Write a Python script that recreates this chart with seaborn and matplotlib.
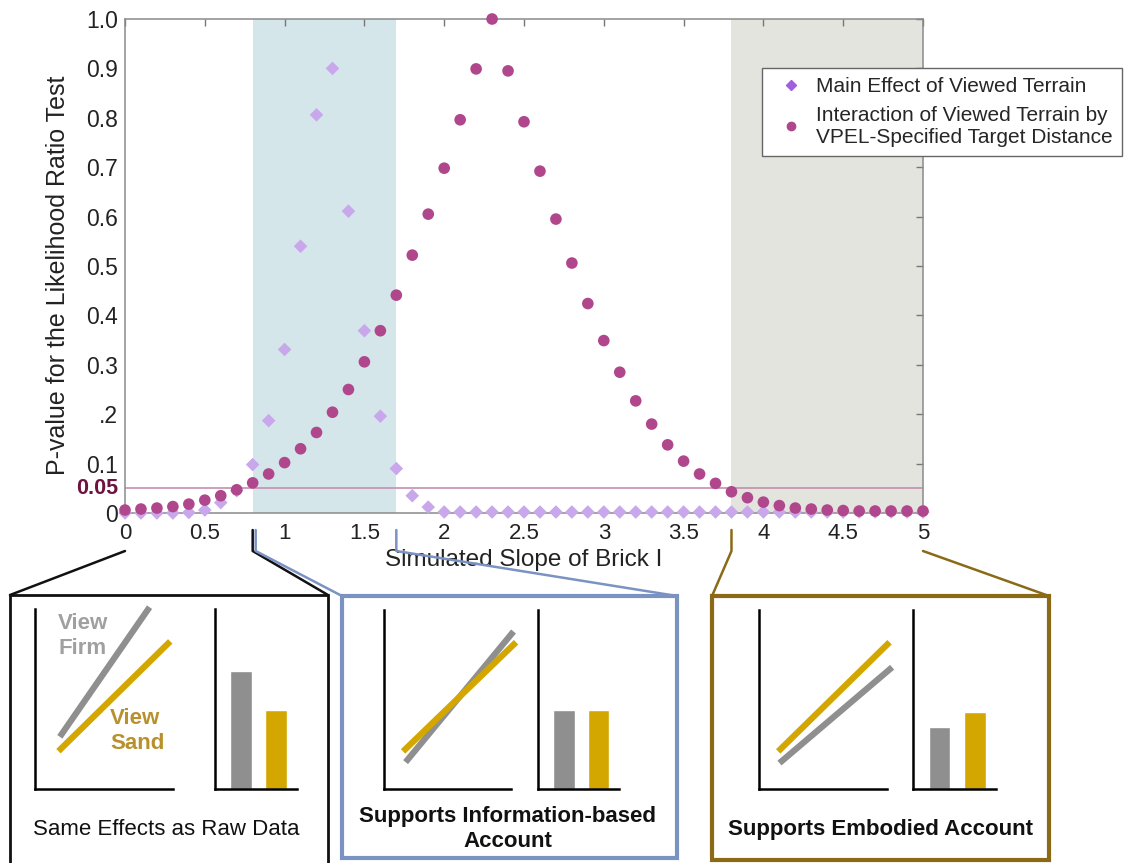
import numpy as np
import pandas as pd
import seaborn as sns
import matplotlib.pyplot as plt
from matplotlib.lines import Line2D
from matplotlib.patches import Rectangle

sns.set_style("white")
plt.rcParams['font.family'] = ['Liberation Sans', 'DejaVu Sans']

# simulated slope of brick I
slopes = [0.0, 0.1, 0.2, 0.3, 0.4, 0.5, 0.6, 0.7, 0.8, 0.9,
          1.0, 1.1, 1.2, 1.3, 1.4, 1.5, 1.6, 1.7, 1.8, 1.9,
          2.0, 2.1, 2.2, 2.3, 2.4, 2.5, 2.6, 2.7, 2.8, 2.9,
          3.0, 3.1, 3.2, 3.3, 3.4, 3.5, 3.6, 3.7, 3.8, 3.9,
          4.0, 4.1, 4.2, 4.3, 4.4, 4.5, 4.6, 4.7, 4.8, 4.9, 5.0]
# p-values, main effect of viewed terrain
main_p = [0.0, 0.0, 0.0, 0.0, 0.001, 0.006, 0.021, 0.045, 0.098, 0.187,
          0.331, 0.540, 0.806, 0.900, 0.611, 0.369, 0.196, 0.090, 0.035, 0.012,
          0.002, 0.002, 0.002, 0.002, 0.002, 0.002, 0.002, 0.002, 0.002, 0.002,
          0.002, 0.002, 0.002, 0.002, 0.002, 0.002, 0.002, 0.002, 0.002, 0.002,
          0.002, 0.002, 0.002, 0.002, 0.002, 0.002, 0.002, 0.002, 0.002, 0.002, 0.002]
# p-values, interaction with VPEL target distance
inter_p = [0.006, 0.008, 0.010, 0.013, 0.018, 0.026, 0.035, 0.047, 0.061, 0.079,
           0.102, 0.130, 0.163, 0.204, 0.250, 0.306, 0.369, 0.441, 0.522, 0.605,
           0.698, 0.796, 0.899, 1.000, 0.895, 0.792, 0.692, 0.595, 0.506, 0.424,
           0.349, 0.285, 0.227, 0.180, 0.138, 0.105, 0.079, 0.060, 0.043, 0.031,
           0.022, 0.015, 0.010, 0.008, 0.006, 0.005, 0.004, 0.004, 0.004, 0.004, 0.004]

info_band = [0.8, 1.7]
embodied_band = [3.8, 5.0]
alpha_level = 0.05

x_ticks = [0, 0.5, 1, 1.5, 2, 2.5, 3, 3.5, 4, 4.5, 5]
x_ticklabels = ['0', '0.5', '1', '1.5', '2', '2.5', '3', '3.5', '4', '4.5', '5']
y_ticks = [0, 0.1, 0.2, 0.3, 0.4, 0.5, 0.6, 0.7, 0.8, 0.9, 1.0]
y_ticklabels = ['0', '0.1', '.2', '0.3', '0.4', '0.5', '0.6', '0.7', '0.8', '0.9', '1.0']
legend_labels = ['Main Effect of Viewed Terrain',
                 'Interaction of Viewed Terrain by\nVPEL-Specified Target Distance']

# schematic panels: line end points (x0, x1), (y0, y1) and bar heights
firm_lines_x = [[0.18, 0.83], [0.17, 1.02], [0.16, 1.04]]
firm_lines_y = [[0.29, 1.01], [0.15, 0.88], [0.145, 0.68]]
sand_lines_x = [[0.17, 0.98], [0.15, 1.04], [0.15, 1.02]]
sand_lines_y = [[0.21, 0.82], [0.21, 0.82], [0.21, 0.82]]
bar_groups = ['Firm', 'Sand']
bar_heights = [[0.656, 0.439], [0.44, 0.44], [0.346, 0.43]]
panel_texts = ['Same Effects as Raw Data', 'Supports Information-based\nAccount',
               'Supports Embodied Account']

df = pd.DataFrame({'slope': slopes, 'main': main_p, 'inter': inter_p})

W, H = 1139, 863
def rect(l, t, r, b):
    return [l / W, 1 - b / H, (r - l) / W, (b - t) / H]

GRAY = '#8f8f8f'
GOLD = '#d4a700'

fig = plt.figure(figsize=(W / 100, H / 100), dpi=100)
ax = fig.add_axes(rect(125, 19, 923, 513))
ax.axvspan(*info_band, color='#d5e6eb', lw=0, zorder=0)
ax.axvspan(*embodied_band, color='#e4e4de', lw=0, zorder=0)
ax.axhline(alpha_level, color='#c58fb0', lw=1.2, zorder=1)

sns.scatterplot(data=df, x='slope', y='main', marker='D', s=48, color='#c8a8ea',
                edgecolor='none', clip_on=False, zorder=3, legend=False, ax=ax)
sns.scatterplot(data=df, x='slope', y='inter', marker='o', s=70, color='#b0478d',
                edgecolor='none', clip_on=False, zorder=4, legend=False, ax=ax)

ax.set_xlim(0, 5)
ax.set_ylim(0, 1)
ax.set_xticks(x_ticks)
ax.set_xticklabels(x_ticklabels)
ax.set_yticks(y_ticks)
ax.set_yticklabels(y_ticklabels)
ax.tick_params(direction='in', top=True, right=True, length=5, width=1, color='#777777',
               labelsize=16.5, labelcolor='#222222', pad=5)
ax.tick_params(axis='x', pad=7, labelsize=16)
for sp in ax.spines.values():
    sp.set_color('#8a8a8a')
    sp.set_linewidth(1.1)
ax.set_xlabel('Simulated Slope of Brick I', fontsize=17.5, color='#222222')
ax.xaxis.set_label_coords(0.5, -0.072)
ax.set_ylabel('P-value for the Likelihood Ratio Test', fontsize=18, color='#222222')
ax.yaxis.set_label_coords(-0.069, 0.482)
ax.text(-0.009, alpha_level, '0.05', transform=ax.get_yaxis_transform(), ha='right',
        va='center', fontsize=15.5, fontweight='bold', color='#6e1240')

handles = [Line2D([], [], marker='D', ls='none', color='#a25ee0', markersize=5),
           Line2D([], [], marker='o', ls='none', color='#b0478d', markersize=6)]
fig.legend(handles, legend_labels, loc='upper left', bbox_to_anchor=(762 / W, 1 - 68 / H),
           fancybox=False, edgecolor='#666666', framealpha=1, fontsize=15,
           handlelength=1.9, handletextpad=0.25, borderpad=0.45, labelspacing=0.45,
           borderaxespad=0)

# panel boxes (left, top, right, bottom) and colours
boxes = [(10, 595, 328, 870), (342, 596, 677, 858), (712, 596, 1049, 860)]
box_colors = ['#111111', '#7b93c2', '#8a6a16']
box_lw = [2, 3, 3]
for (l, t, r, b), c, lw in zip(boxes, box_colors, box_lw):
    fig.add_artist(Rectangle((l / W, 1 - b / H), (r - l) / W, (b - t) / H,
                             transform=fig.transFigure, fill=False, ec=c, lw=lw))

# connectors from the slope axis to each panel
def to_px(xval):
    return ax.transData.transform((xval, 0))[0]

spans = [(0.0, 0.8), tuple(info_band), tuple(embodied_band)]
for (a, b), (l, t, r, bb), c in zip(spans, boxes, box_colors):
    for xv, corner, vert in [(a, l, a not in (0.0, 5.0)), (b, r, b not in (0.0, 5.0))]:
        xp = to_px(xv) + (3 if c == '#7b93c2' and xv == 0.8 else 0)
        xs = [xp, xp, corner] if vert else [xp, corner]
        ys = [530, 551, t] if vert else [551, t]
        fig.add_artist(Line2D([x / W for x in xs], [1 - y / H for y in ys],
                              transform=fig.transFigure, color=c, lw=1.8))

line_axes = [(35, 609, 173, 789), (384, 610, 511, 789), (759, 610, 887, 789)]
bar_axes = [(215, 609, 297, 789), (538, 610, 619, 789), (913, 610, 996, 789)]
for i in range(3):
    la = fig.add_axes(rect(*line_axes[i]))
    if i == 2:
        order = [('sand', GOLD), ('firm', GRAY)]
    else:
        order = [('firm', GRAY), ('sand', GOLD)]
    for name, col in order:
        lx = firm_lines_x[i] if name == 'firm' else sand_lines_x[i]
        ly = firm_lines_y[i] if name == 'firm' else sand_lines_y[i]
        sns.lineplot(x=lx, y=ly, color=col, lw=4.5, solid_capstyle='butt',
                     clip_on=False, ax=la)
    la.set_xlim(0, 1)
    la.set_ylim(0, 1)
    ba = fig.add_axes(rect(*bar_axes[i]))
    sns.barplot(x=bar_groups, y=bar_heights[i], hue=bar_groups, palette=[GRAY, GOLD],
                width=0.62, saturation=1, legend=False, ax=ba)
    ba.set_xlim(-0.75, 1.6)
    ba.set_ylim(0, 1)
    for a in (la, ba):
        a.set_facecolor('none')
        a.set_xticks([])
        a.set_yticks([])
        a.set_xlabel('')
        a.set_ylabel('')
        for s in ('top', 'right'):
            a.spines[s].set_visible(False)
        for s in ('left', 'bottom'):
            a.spines[s].set_color('black')
            a.spines[s].set_linewidth(1.8)

fig.text(58 / W, 1 - 636 / H, 'View\nFirm', fontsize=16, fontweight='bold', color='#a0a0a0',
         ha='left', va='center', linespacing=1.27)
fig.text(110 / W, 1 - 731 / H, 'View\nSand', fontsize=16, fontweight='bold', color='#b8912c',
         ha='left', va='center', linespacing=1.27)
fig.text(166 / W, 1 - 829 / H, panel_texts[0], fontsize=16, ha='center', va='center',
         color='#111111')
fig.text(508 / W, 1 - 829 / H, panel_texts[1], fontsize=16, fontweight='bold', ha='center',
         va='center', color='#111111', linespacing=1.27)
fig.text(880 / W, 1 - 829 / H, panel_texts[2], fontsize=16, fontweight='bold', ha='center',
         va='center', color='#111111')

fig.savefig('out.png', dpi=100)
